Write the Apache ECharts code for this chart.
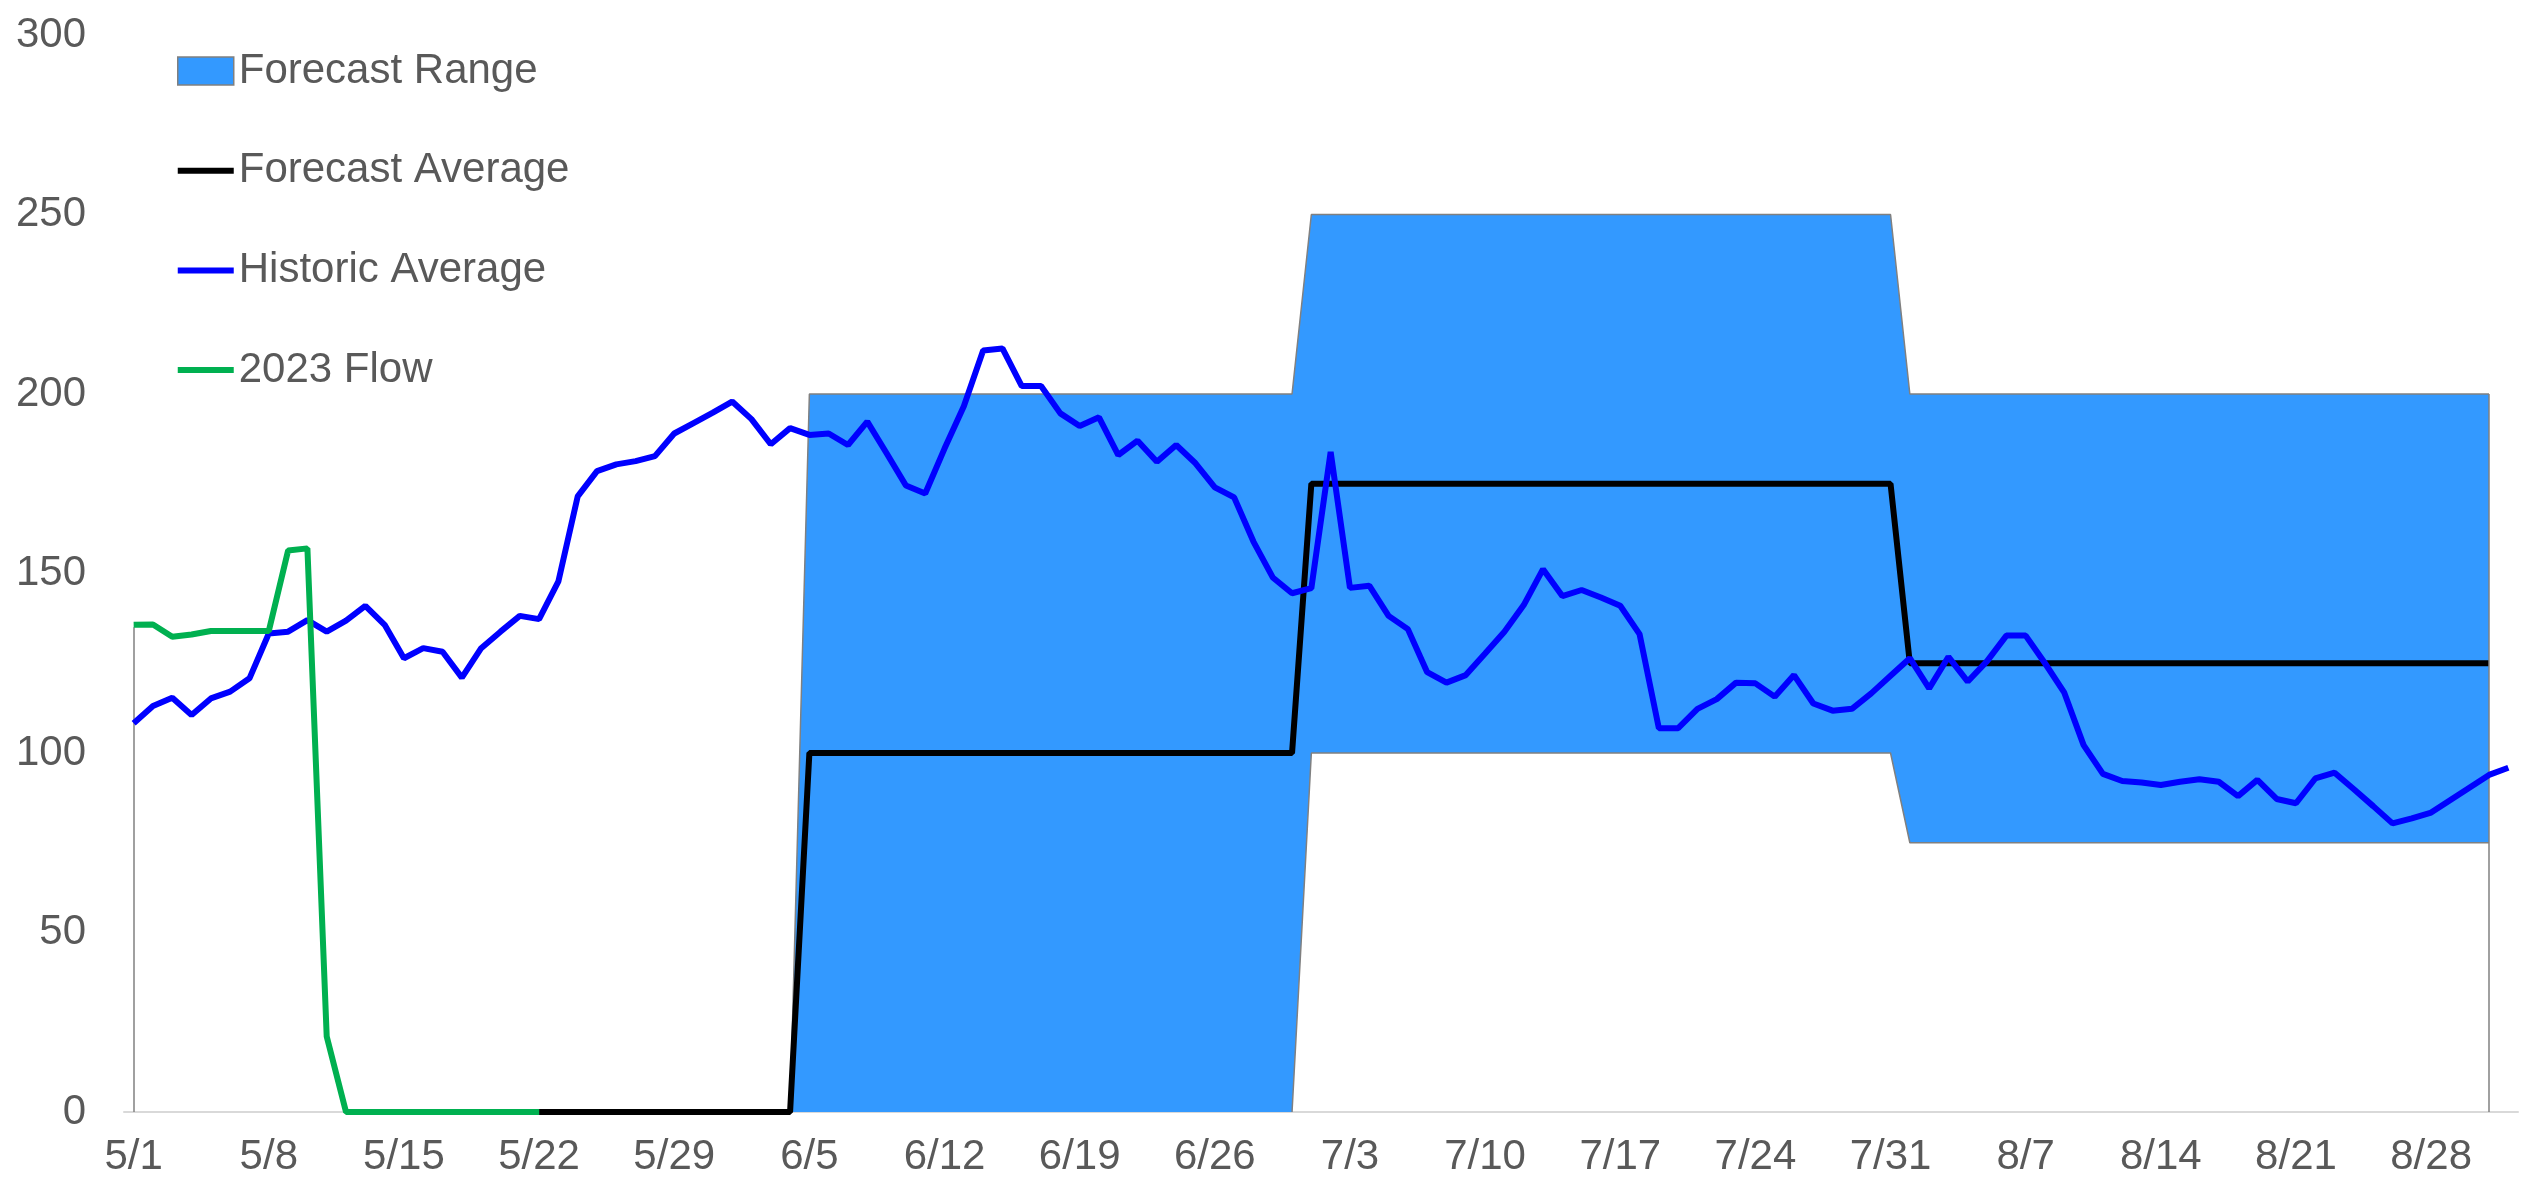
<!DOCTYPE html>
<html>
<head>
<meta charset="utf-8">
<script src="https://cdn.jsdelivr.net/npm/echarts@6/dist/echarts.min.js"></script>
<style>
html,body{margin:0;padding:0;background:#fff;}
#chart{width:2521px;height:1188px;}
</style>
</head>
<body>
<div id="chart"></div>
<script>
const dates = [
'5/1','5/2','5/3','5/4','5/5','5/6','5/7','5/8','5/9','5/10','5/11','5/12','5/13','5/14','5/15','5/16','5/17','5/18','5/19','5/20','5/21','5/22','5/23','5/24','5/25','5/26','5/27','5/28','5/29','5/30','5/31',
'6/1','6/2','6/3','6/4','6/5','6/6','6/7','6/8','6/9','6/10','6/11','6/12','6/13','6/14','6/15','6/16','6/17','6/18','6/19','6/20','6/21','6/22','6/23','6/24','6/25','6/26','6/27','6/28','6/29','6/30',
'7/1','7/2','7/3','7/4','7/5','7/6','7/7','7/8','7/9','7/10','7/11','7/12','7/13','7/14','7/15','7/16','7/17','7/18','7/19','7/20','7/21','7/22','7/23','7/24','7/25','7/26','7/27','7/28','7/29','7/30','7/31',
'8/1','8/2','8/3','8/4','8/5','8/6','8/7','8/8','8/9','8/10','8/11','8/12','8/13','8/14','8/15','8/16','8/17','8/18','8/19','8/20','8/21','8/22','8/23','8/24','8/25','8/26','8/27','8/28','8/29','8/30','8/31',
'9/1'];

// Historic Average (5/1 .. 9/1)
const historicAverage = [
108.3,113.1,115.4,110.6,115.2,117.1,120.8,133.3,133.8,137.0,133.8,136.9,141.0,135.7,126.4,129.2,128.2,121.0,129.2,133.8,138.2,137.3,147.8,171.5,178.5,180.4,181.3,182.7,189.0,191.9,194.8,
197.9,193.0,186.0,190.5,188.6,189.0,185.8,192.3,183.5,174.5,172.3,184.8,196.6,212.1,212.7,202.2,202.2,194.6,191.1,193.5,183.0,187.0,181.1,185.8,180.7,174.0,171.2,158.9,148.9,144.5,
145.9,183.9,146.0,146.6,138.2,134.5,122.5,119.6,121.7,127.7,133.8,141.2,151.2,143.7,145.4,143.3,141.0,133.1,106.9,106.9,112.3,115.0,119.6,119.4,115.7,121.7,113.8,111.8,112.3,116.6,121.5,
126.4,118.0,126.8,119.9,125.6,132.7,132.7,125.0,116.8,102.2,94.2,92.2,91.8,91.1,92.0,92.7,92.0,88.0,92.5,87.2,86.0,92.9,94.5,89.9,85.2,80.4,81.8,83.4,86.9,90.4,93.9,
95.9];

// 2023 Flow (5/1 .. 5/22, then no data)
const flow2023 = [
135.7,135.8,132.4,133.0,134.0,134.0,134.0,134.0,156.4,157.0,21.0,0,0,0,0,0,0,0,0,0,0,0,null,null,null,null,null,null,null,null,null,
null,null,null,null,null,null,null,null,null,null,null,null,null,null,null,null,null,null,null,null,null,null,null,null,null,null,null,null,null,null,
null,null,null,null,null,null,null,null,null,null,null,null,null,null,null,null,null,null,null,null,null,null,null,null,null,null,null,null,null,null,null,
null,null,null,null,null,null,null,null,null,null,null,null,null,null,null,null,null,null,null,null,null,null,null,null,null,null,null,null,null,null,null,
null];

// Forecast Average
const forecastAverage = [
null,null,null,null,null,null,null,null,null,null,null,null,null,null,null,null,null,null,null,null,null,0,0,0,0,0,0,0,0,0,0,
0,0,0,0,100,100,100,100,100,100,100,100,100,100,100,100,100,100,100,100,100,100,100,100,100,100,100,100,100,100,
175,175,175,175,175,175,175,175,175,175,175,175,175,175,175,175,175,175,175,175,175,175,175,175,175,175,175,175,175,175,175,
125,125,125,125,125,125,125,125,125,125,125,125,125,125,125,125,125,125,125,125,125,125,125,125,125,125,125,125,125,125,125,
null];

// Forecast Range lower bound
const rangeLow = [
null,null,null,null,null,null,null,null,null,null,null,null,null,null,null,null,null,null,null,null,null,null,null,null,null,null,null,null,null,null,null,
null,null,null,0,null,null,null,null,null,null,null,null,null,null,null,null,null,null,null,null,null,null,null,null,null,null,null,null,null,0,
100,100,100,100,100,100,100,100,100,100,100,100,100,100,100,100,100,100,100,100,100,100,100,100,100,100,100,100,100,100,100,
75,75,75,75,75,75,75,75,75,75,75,75,75,75,75,75,75,75,75,75,75,75,75,75,75,75,75,75,75,75,75,
null];

// Forecast Range width (stacked on lower bound)
const rangeWidth = [
null,null,null,null,null,null,null,null,null,null,null,null,null,null,null,null,null,null,null,null,null,null,null,null,null,null,null,null,null,null,null,
null,null,null,0,200,200,200,200,200,200,200,200,200,200,200,200,200,200,200,200,200,200,200,200,200,200,200,200,200,200,
150,150,150,150,150,150,150,150,150,150,150,150,150,150,150,150,150,150,150,150,150,150,150,150,150,150,150,150,150,150,150,
125,125,125,125,125,125,125,125,125,125,125,125,125,125,125,125,125,125,125,125,125,125,125,125,125,125,125,125,125,125,125,
null];

// outline edges of the range area: [date, top value]
const rangeEdges = [['5/1', 135], ['8/31', 200]];

const yTicks = {min: 0, max: 300, interval: 50};

const FONT = "'Liberation Sans', Arial, sans-serif";
const TXT = '#595959';
const LW = 6;
const lineIcon = 'path://M0,0H560V60H0Z';

const chart = echarts.init(document.getElementById('chart'));
chart.setOption({
  animation: false,
  backgroundColor: '#ffffff',
  textStyle: {fontFamily: FONT},
  grid: {left: 124, right: 3, top: 35, bottom: 76, containLabel: false},
  legend: {
    orient: 'vertical',
    left: 172, top: 41,
    itemWidth: 56, itemHeight: 28, itemGap: 49.7,
    symbolKeepAspect: true,
    textStyle: {fontSize: 42, color: TXT, fontFamily: FONT, lineHeight: 50},
    data: [
      {name: 'Forecast Range', icon: 'rect', itemStyle: {color: '#3399FF', borderColor: '#808080', borderWidth: 1.5}},
      {name: 'Forecast Average', icon: lineIcon, itemStyle: {color: '#000000', borderWidth: 0}},
      {name: 'Historic Average', icon: lineIcon, itemStyle: {color: '#0000FF', borderWidth: 0}},
      {name: '2023 Flow', icon: lineIcon, itemStyle: {color: '#00B050', borderWidth: 0}}
    ]
  },
  xAxis: {
    type: 'category',
    data: dates,
    boundaryGap: true,
    axisLine: {lineStyle: {color: '#D9D9D9', width: 2}},
    axisTick: {show: false},
    axisLabel: {interval: 6, fontSize: 42, color: TXT, fontFamily: FONT, margin: 24},
    splitLine: {show: false}
  },
  yAxis: {
    type: 'value',
    min: yTicks.min, max: yTicks.max, interval: yTicks.interval,
    axisLine: {show: false},
    axisTick: {show: false},
    splitLine: {show: false},
    axisLabel: {fontSize: 42, color: TXT, fontFamily: FONT, margin: 38}
  },
  series: [
    {
      name: 'rangeLow', type: 'line', stack: 'range', data: rangeLow,
      symbol: 'none', z: 3,
      lineStyle: {color: '#808080', width: 1.5},
      itemStyle: {color: '#808080'},
      markLine: {
        silent: true, symbol: ['none', 'none'], label: {show: false},
        lineStyle: {color: '#808080', width: 1.5, type: 'solid'},
        data: rangeEdges.map(([d, v]) => [{coord: [dates.indexOf(d), 0]}, {coord: [dates.indexOf(d), v]}])
      }
    },
    {
      name: 'Forecast Range', type: 'line', stack: 'range', data: rangeWidth,
      symbol: 'none', z: 2,
      lineStyle: {color: '#808080', width: 1.5},
      itemStyle: {color: '#3399FF'},
      areaStyle: {color: '#3399FF', opacity: 1}
    },
    {
      name: 'Forecast Average', type: 'line', data: forecastAverage,
      symbol: 'none', z: 4,
      lineStyle: {color: '#000000', width: LW},
      itemStyle: {color: '#000000'}
    },
    {
      name: 'Historic Average', type: 'line', data: historicAverage,
      symbol: 'none', z: 5,
      lineStyle: {color: '#0000FF', width: LW},
      itemStyle: {color: '#0000FF'}
    },
    {
      name: '2023 Flow', type: 'line', data: flow2023,
      symbol: 'none', z: 6,
      lineStyle: {color: '#00B050', width: LW},
      itemStyle: {color: '#00B050'}
    }
  ]
});
</script>
</body>
</html>
